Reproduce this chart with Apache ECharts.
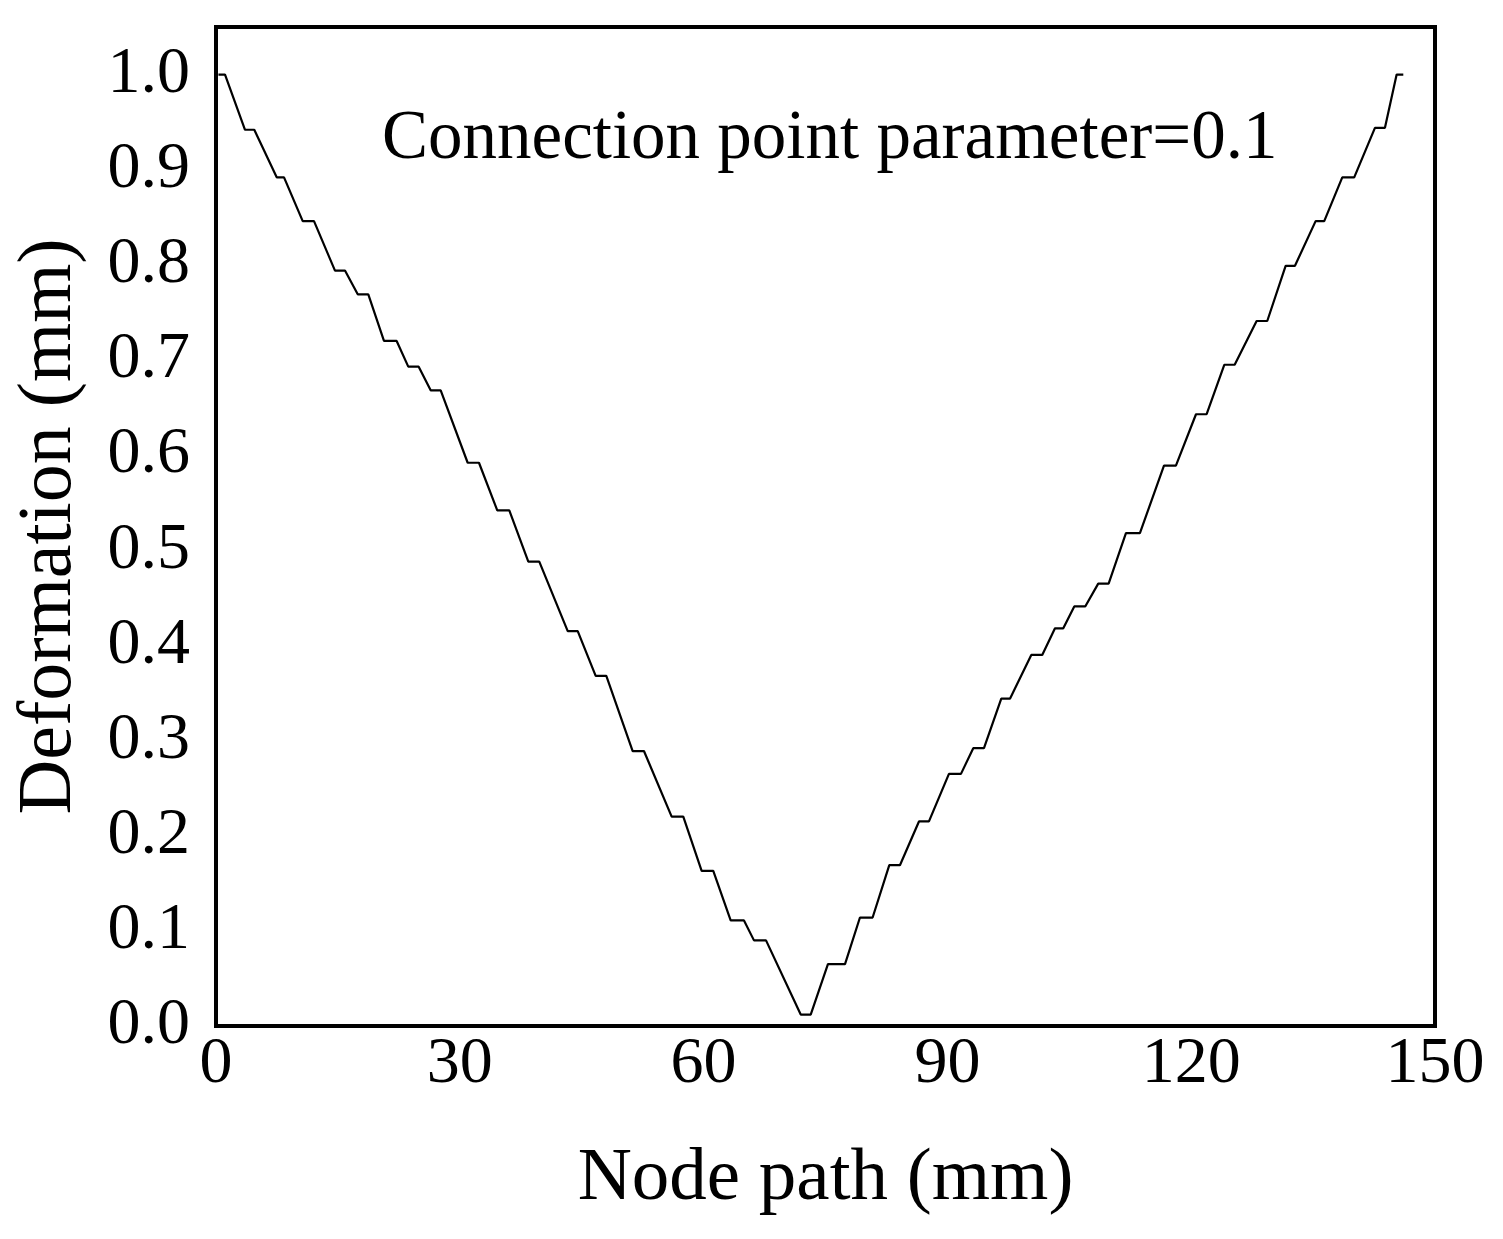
<!DOCTYPE html>
<html>
<head>
<meta charset="utf-8">
<script src="https://cdn.jsdelivr.net/npm/echarts@6/dist/echarts.min.js"></script>
<style>
html,body{margin:0;padding:0;background:#fff;}
#chart{width:1503px;height:1239px;}
</style>
</head>
<body>
<div id="chart"></div>
<script>
// Node path (mm) of each vertex of the polyline
var nodePath = [0.3, 1.11, 3.57, 4.71, 7.47, 8.37, 10.67, 12.06, 14.64, 15.87,
  17.44, 18.74, 20.67, 22.23, 23.66, 24.94, 26.43, 27.65, 30.97, 32.36,
  34.61, 36.09, 38.43, 39.78, 43.28, 44.51, 46.72, 48.03, 51.27, 52.66,
  56.07, 57.50, 59.76, 61.19, 63.33, 64.97, 66.20, 67.68, 71.95, 73.18,
  75.30, 77.40, 79.24, 80.80, 82.85, 84.16, 86.50, 87.73, 90.19, 91.67,
  93.18, 94.50, 96.63, 97.70, 100.32, 101.67, 103.24, 104.26, 105.61, 106.96,
  108.56, 109.84, 111.97, 113.69, 116.65, 118.12, 120.59, 121.90, 124.07, 125.35,
  128.05, 129.36, 131.62, 132.77, 135.31, 136.37, 138.59, 140.06, 142.61, 143.84,
  145.28, 146.10];
// Deformation (mm) at each vertex
var deformation = [1.0, 1.0, 0.942, 0.942, 0.892, 0.892, 0.846, 0.846, 0.794, 0.794,
  0.769, 0.769, 0.720, 0.720, 0.693, 0.693, 0.668, 0.668, 0.592, 0.592,
  0.542, 0.542, 0.488, 0.488, 0.415, 0.415, 0.368, 0.368, 0.289, 0.289,
  0.220, 0.220, 0.163, 0.163, 0.111, 0.111, 0.090, 0.090, 0.012, 0.012,
  0.065, 0.065, 0.114, 0.114, 0.169, 0.169, 0.215, 0.215, 0.265, 0.265,
  0.292, 0.292, 0.344, 0.344, 0.390, 0.390, 0.418, 0.418, 0.441, 0.441,
  0.465, 0.465, 0.518, 0.518, 0.589, 0.589, 0.643, 0.643, 0.695, 0.695,
  0.741, 0.741, 0.799, 0.799, 0.846, 0.846, 0.892, 0.892, 0.944, 0.944,
  1.0, 1.0];
var xTicks = [0, 30, 60, 90, 120, 150];
var yTicks = [0.0, 0.1, 0.2, 0.3, 0.4, 0.5, 0.6, 0.7, 0.8, 0.9, 1.0];
var titleText = 'Connection point parameter=0.1';
var xName = 'Node path (mm)';
var yName = 'Deformation (mm)';

var FONT = '"Liberation Serif", "DejaVu Serif", serif';
var data = nodePath.map(function (x, i) { return [x, deformation[i]]; });

var chart = echarts.init(document.getElementById('chart'), null, {renderer: 'canvas'});
chart.setOption({
  animation: false,
  backgroundColor: '#ffffff',
  title: {
    text: titleText,
    left: 377,
    top: 100,
    textStyle: {fontFamily: FONT, fontSize: 69, fontWeight: 'normal', color: '#000'}
  },
  grid: {
    left: 216, right: 68, top: 27, bottom: 213,
    show: true, borderColor: '#000', borderWidth: 4, backgroundColor: 'transparent'
  },
  xAxis: {
    type: 'value', min: 0, max: 150, interval: 30,
    name: xName, nameLocation: 'middle', nameGap: 116,
    nameTextStyle: {fontFamily: FONT, fontSize: 75, color: '#000'},
    axisLine: {show: false}, axisTick: {show: false}, splitLine: {show: false},
    axisLabel: {
      fontFamily: FONT, fontSize: 66, color: '#000', margin: 6,
      formatter: function (v) { return xTicks.indexOf(v) >= 0 ? String(v) : ''; }
    }
  },
  yAxis: {
    type: 'value', min: 0, max: 1.05, interval: 0.1,
    name: yName, nameLocation: 'middle', nameGap: 128,
    nameTextStyle: {fontFamily: FONT, fontSize: 76, color: '#000'},
    axisLine: {show: false}, axisTick: {show: false}, splitLine: {show: false},
    axisLabel: {
      fontFamily: FONT, fontSize: 66, color: '#000', margin: 26, showMaxLabel: false,
      padding: [0, 0, 10, 0],
      formatter: function (v) {
        for (var i = 0; i < yTicks.length; i++) {
          if (Math.abs(yTicks[i] - v) < 1e-6) return yTicks[i].toFixed(1);
        }
        return '';
      }
    }
  },
  series: [{
    type: 'line', data: data, showSymbol: false, symbol: 'none',
    lineStyle: {color: '#000', width: 2.2}, z: 3
  }]
});
</script>
</body>
</html>
